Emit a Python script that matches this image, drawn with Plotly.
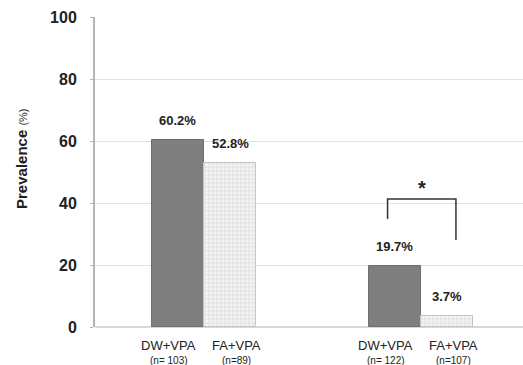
import plotly.graph_objects as go

# Prevalence by group and treatment
groups = ["group1", "group2"]
treatments = ["DW+VPA", "FA+VPA"]
n_dw = [103, 122]
n_fa = [89, 107]
prev_dw = [60.2, 19.7]
prev_fa = [52.8, 3.7]
y_ticks = [0, 20, 40, 60, 80, 100]

# significance bracket for group 2 (y levels in %)
sig_left_y = [34.8, 41.3]
sig_right_y = [28.1, 41.3]

BAR_W = 0.24
group_x = list(range(len(groups)))
dw_x = [g - BAR_W / 2 for g in group_x]
fa_x = [g + BAR_W / 2 for g in group_x]

FONT = "Liberation Sans, Arial, sans-serif"

fig = go.Figure()
fig.add_trace(go.Bar(
    x=dw_x, y=prev_dw, width=BAR_W, name="DW+VPA",
    marker=dict(color="#7f7f7f", line=dict(color="#6e6e6e", width=1)),
))
fig.add_trace(go.Bar(
    x=fa_x, y=prev_fa, width=BAR_W, name="FA+VPA",
    marker=dict(
        color="#f2f2f2",
        line=dict(color="#c4c4c4", width=1),
        pattern=dict(shape="+", size=4, solidity=0.35,
                     fgcolor="#c6c6c6", bgcolor="#f4f4f4"),
    ),
))

annotations = []
# value labels above bars
for xs, vals in ((dw_x, prev_dw), (fa_x, prev_fa)):
    for x, v in zip(xs, vals):
        annotations.append(dict(
            x=x, y=v, xref="x", yref="y", text=f"<b>{v:.1f}%</b>",
            showarrow=False, yanchor="bottom", yshift=10,
            font=dict(family=FONT, size=13, color="#222"),
        ))

# category labels and group sizes under each bar
for xs, ns, label, shift, sep in ((dw_x, n_dw, "DW+VPA", -9, "= "),
                                  (fa_x, n_fa, "FA+VPA", 6, "=")):
    for x, n in zip(xs, ns):
        annotations.append(dict(
            x=x, y=0, xref="x", yref="paper", xshift=shift, yshift=-18,
            text=label, showarrow=False, yanchor="middle",
            font=dict(family=FONT, size=13, color="#222"),
        ))
        annotations.append(dict(
            x=x, y=0, xref="x", yref="paper", xshift=shift, yshift=-33,
            text=f"(n{sep}{n})", showarrow=False, yanchor="middle",
            font=dict(family=FONT, size=10, color="#222"),
        ))

# y axis title
annotations.append(dict(
    x=0, y=0.542, xref="paper", yref="paper", xshift=-73,
    text="<b>Prevalence</b> <span style='font-size:11px'>(%)</span>",
    textangle=-90, showarrow=False, xanchor="center", yanchor="middle",
    font=dict(family=FONT, size=15, color="#222"),
))

# significance bracket and star centred over it
bx0 = dw_x[1] - 0.034
bx1 = fa_x[1] + 0.041
annotations.append(dict(
    x=(bx0 + bx1) / 2, y=sig_left_y[1], xref="x", yref="y",
    text="<b>*</b>", showarrow=False, yanchor="bottom", yshift=-2,
    font=dict(family=FONT, size=20, color="#222"),
))

shapes = [dict(
    type="path", xref="x", yref="y",
    path=(f"M {bx0} {sig_left_y[0]} L {bx0} {sig_left_y[1]} "
          f"L {bx1} {sig_right_y[1]} L {bx1} {sig_right_y[0]}"),
    line=dict(color="#333", width=1.5),
)]

fig.update_layout(
    width=523, height=365,
    margin=dict(l=95, r=0, t=17, b=38),
    paper_bgcolor="white", plot_bgcolor="white",
    showlegend=False, bargap=0,
    annotations=annotations, shapes=shapes,
    xaxis=dict(
        range=[-0.502, 1.47], showticklabels=False, showgrid=False,
        zeroline=False, showline=False, fixedrange=True,
    ),
    yaxis=dict(
        range=[0, 100], tickvals=y_ticks, showgrid=True,
        gridcolor="#e2e2e2", gridwidth=1, zeroline=True,
        zerolinecolor="#d8d8d8", zerolinewidth=2,
        showline=True, linecolor="#b4b4b4", linewidth=2,
        ticks="outside", ticklen=3, tickcolor="#b4b4b4",
        ticklabelstandoff=10,
        tickfont=dict(family=FONT, size=16, color="#222", weight="bold"),
    ),
)

fig.write_html("out.html")
